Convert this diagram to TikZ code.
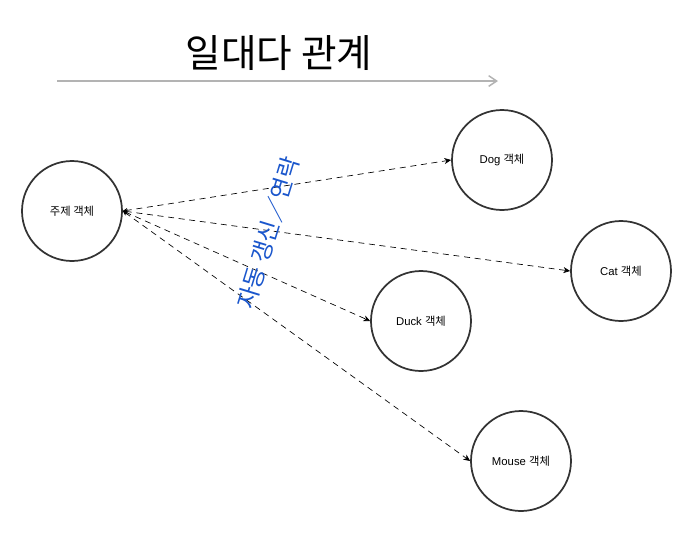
\documentclass[tikz,border=0pt]{standalone}
\usepackage{fontspec}
\setmainfont{Liberation Sans}
\newfontfamily\kr{Noto Sans CJK KR}
\usetikzlibrary{arrows.meta}

\definecolor{ringgray}{HTML}{333333}
\definecolor{axisgray}{HTML}{B3B3B3}
\definecolor{notblue}{HTML}{1A56CC}

\tikzset{
	obj/.style={circle,draw=ringgray,line width=1.3pt,minimum size=75pt,inner sep=0pt,font=\fontsize{8.5}{10}\selectfont},
	notify/.style={dash pattern=on 4.5pt off 3.5pt,line width=0.5pt,{Stealth[length=3.5pt,width=3.5pt]}-{Stealth[length=5pt,width=4.5pt,inset=1.5pt]}}
}

\begin{document}
\begin{tikzpicture}[x=0.75pt,y=-0.75pt]
		\useasboundingbox (0,0) rectangle (693,533);
		
		% title and gray arrow
		\node[font=\kr\fontsize{29}{32}\selectfont] (title) at (279,53) {일대다 관계};
		\coordinate (axL) at (57,81);
		\coordinate (axR) at (498,81);
		\draw[axisgray,line width=1.1pt,-{Straight Barb[length=6pt,width=8pt]}] (axL) -- (axR);
		
		% subject
		\node[obj] (subj) at (72,211) {{\kr 주제 객체}};
		
		% observers
		\node[obj] (dog) at (502,160) {Dog {\kr 객체}};
		\node[obj] (cat) at (621,271) {Cat {\kr 객체}};
		\node[obj] (duck) at (421,321) {Duck {\kr 객체}};
		\node[obj] (mouse) at (521,461) {Mouse {\kr 객체}};
		
		% notifications
		\draw[notify] (subj.east) -- (dog.west);
		\draw[notify] (subj.east) -- (cat.west);
		\draw[notify] (subj.east) -- (duck.west);
		\draw[notify] (subj.east) -- (mouse.west);
		
		% label on the lines
		\node[notblue,rotate=73,font=\kr\fontsize{17.5}{20}\selectfont] (auto) at (268,233) {자동 갱신／연락};
	\end{tikzpicture}
\end{document}
